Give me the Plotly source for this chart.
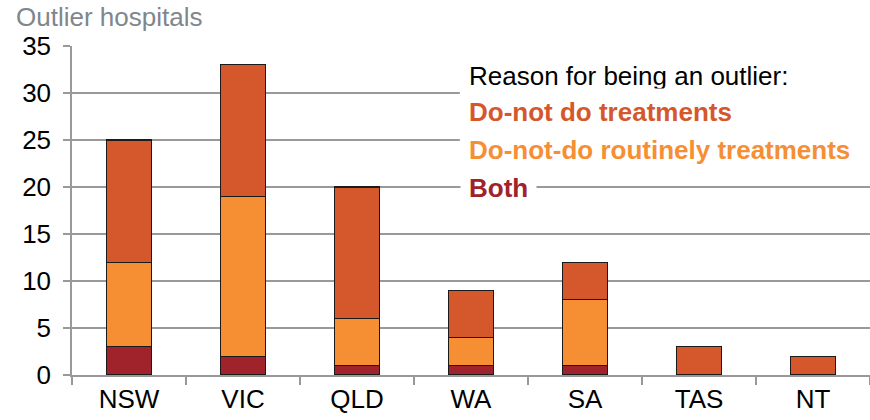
import plotly.graph_objects as go

states = ["NSW", "VIC", "QLD", "WA", "SA", "TAS", "NT"]
both = [3, 2, 1, 1, 1, 0, 0]
routinely = [9, 17, 5, 3, 7, 0, 0]
donot = [13, 14, 14, 5, 4, 3, 2]
y_ticks = [0, 5, 10, 15, 20, 25, 30, 35]

c_both = "#A0222A"
c_rout = "#F68E33"
c_donot = "#D4582B"

fig = go.Figure()
for name, vals, col in [("Both", both, c_both),
                        ("Do-not-do routinely treatments", routinely, c_rout),
                        ("Do-not do treatments", donot, c_donot)]:
    fig.add_trace(go.Bar(x=states, y=vals, name=name,
                         marker=dict(color=col, line=dict(color="#1a1a1a", width=1.2)),
                         width=0.4))

fig.update_layout(
    barmode="stack",
    width=870, height=420,
    margin=dict(l=72, r=0, t=46, b=45),
    paper_bgcolor="white", plot_bgcolor="white",
    showlegend=False,
    font=dict(family="Liberation Sans, Arial, sans-serif", size=26, color="black"),
    xaxis=dict(showline=True, linecolor="#999999", linewidth=1.5, ticks="outside", tickson="boundaries",
               ticklen=8, tickcolor="#999999", tickwidth=1.5, tickfont=dict(size=26, color="black"),
               showgrid=False),
    yaxis=dict(range=[0, 35], tickvals=y_ticks, showline=True, linecolor="#999999", linewidth=1.5,
               ticks="outside", ticklen=7, tickcolor="#999999", tickwidth=1.5, showgrid=True,
               gridcolor="#999999", gridwidth=1.5, tickfont=dict(size=26, color="black"), zeroline=False,
               ticklabelstandoff=7),
)

fig.add_annotation(text="Outlier hospitals", xref="paper", yref="paper", x=-58/798, y=1.0 + 29/329,
                   xanchor="left", yanchor="middle", showarrow=False, font=dict(size=26, color="#7f868c"))

# white legend box covering gridlines
fig.add_shape(type="rect", xref="paper", yref="y", x0=0.486, x1=1.0, y0=21.3, y1=34.4,
              fillcolor="white", line=dict(width=0), layer="above")

legend_items = [
    ("Reason for being an outlier:", "black", False, 31.8),
    ("Do-not do treatments", c_donot, True, 28.0),
    ("Do-not-do routinely treatments", c_rout, True, 23.9),
    ("Both", c_both, True, 19.9),
]
for txt, col, bold, yv in legend_items:
    fig.add_annotation(text=f"<b>{txt}</b>" if bold else txt, xref="paper", yref="y", x=0.486, y=yv,
                       xanchor="left", yanchor="middle", showarrow=False, bgcolor="white",
                       borderpad=8, font=dict(size=26, color=col))

fig.write_html("out.html", config={"displayModeBar": False},
               post_script="document.body.style.margin='0';document.body.style.overflow='hidden';")
